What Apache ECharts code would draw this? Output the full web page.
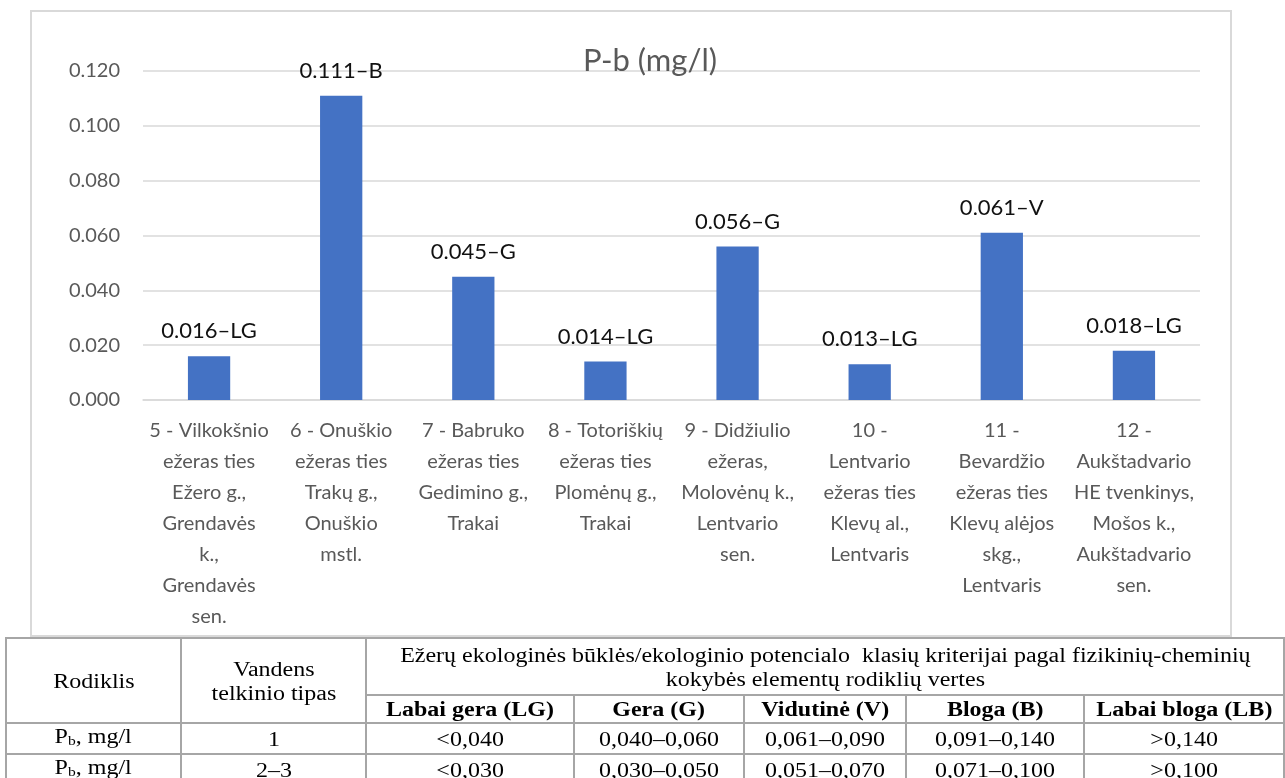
<!DOCTYPE html>
<html>
<head>
<meta charset="utf-8">
<script src="https://cdn.jsdelivr.net/npm/echarts@6/dist/echarts.min.js"></script>
<style>
  html, body { margin: 0; padding: 0; background: #fff; }
  #wrap { position: relative; width: 1285px; height: 778px; overflow: hidden; }
  #chart { position: absolute; left: 0; top: 0; width: 1285px; height: 638px; }
  #tbl { position: absolute; left: 5px; top: 637px; border-collapse: collapse; table-layout: fixed;
         font-family: "Liberation Serif", "Times New Roman", serif; font-size: 20px; color: #000; }
  #tbl td { border: 2px solid #a6a6a6; text-align: center; vertical-align: middle; padding: 0; line-height: 24px; overflow: hidden; white-space: nowrap; }
  #tbl td span { display: inline-block; transform: scaleX(1.2); }
  #tbl .h2 td { font-weight: bold; height: 26px; }
  #tbl .d td { height: 26px; }
  sub { font-size: 13px; vertical-align: -2px; }
</style>
</head>
<body>
<div id="wrap">
  <div id="chart"></div>
  <table id="tbl">
    <colgroup>
      <col style="width:175px"><col style="width:185px"><col style="width:208px"><col style="width:170px">
      <col style="width:162px"><col style="width:178px"><col style="width:200px">
    </colgroup>
    <tr style="height:57px">
      <td rowspan="2"><span>Rodiklis</span></td>
      <td rowspan="2"><span>Vandens<br>telkinio tipas</span></td>
      <td colspan="5"><span>Ežerų ekologinės būklės/ekologinio potencialo&nbsp; klasių kriterijai pagal fizikinių-cheminių<br>kokybės elementų rodiklių vertes</span></td>
    </tr>
    <tr class="h2" id="hdr2"></tr>
    <tr class="d" id="row1"></tr>
    <tr class="d" id="row2"></tr>
  </table>
</div>
<script>
// ---- chart data ----
const categories = [
  "5 - Vilkokšnio\nežeras ties\nEžero g.,\nGrendavės\nk.,\nGrendavės\nsen.",
  "6 - Onuškio\nežeras ties\nTrakų g.,\nOnuškio\nmstl.",
  "7 - Babruko\nežeras ties\nGedimino g.,\nTrakai",
  "8 - Totoriškių\nežeras ties\nPlomėnų g.,\nTrakai",
  "9 - Didžiulio\nežeras,\nMolovėnų k.,\nLentvario\nsen.",
  "10 -\nLentvario\nežeras ties\nKlevų al.,\nLentvaris",
  "11 -\nBevardžio\nežeras ties\nKlevų alėjos\nskg.,\nLentvaris",
  "12 -\nAukštadvario\nHE tvenkinys,\nMošos k.,\nAukštadvario\nsen."
];
const values = [0.016, 0.111, 0.045, 0.014, 0.056, 0.013, 0.061, 0.018];
const classes = ["LG", "B", "G", "LG", "G", "LG", "V", "LG"];
const chartTitle = "P-b (mg/l)";
const yTicks = { min: 0, max: 0.12, interval: 0.02 };

// ---- table data ----
const classHeaders = ["Labai gera (LG)", "Gera (G)", "Vidutinė (V)", "Bloga (B)", "Labai bloga (LB)"];
const rowIndicator = "P<sub>b</sub>, mg/l";
const rowTypes = ["1", "2–3"];
const rowLimits1 = ["<0,040", "0,040–0,060", "0,061–0,090", "0,091–0,140", ">0,140"];
const rowLimits2 = ["<0,030", "0,030–0,050", "0,051–0,070", "0,071–0,100", ">0,100"];

function esc(s) { return s.replace(/&/g, "&amp;").replace(/</g, "&lt;").replace(/>/g, "&gt;"); }
document.getElementById("hdr2").innerHTML = classHeaders.map(h => "<td><span>" + esc(h) + "</span></td>").join("");
[[rowTypes[0], rowLimits1, "row1"], [rowTypes[1], rowLimits2, "row2"]].forEach(([t, lims, id]) => {
  document.getElementById(id).innerHTML =
    "<td><span>" + rowIndicator + "</span></td><td><span>" + esc(t) + "</span></td>" +
    lims.map(v => "<td><span>" + esc(v) + "</span></td>").join("");
});

const font = "Lato, 'Open Sans', sans-serif";
const chart = echarts.init(document.getElementById("chart"), null, { renderer: "canvas" });
chart.setOption({
  animation: false,
  backgroundColor: "#fff",
  graphic: [{
    type: "rect", left: 30, top: 10, z: -10, silent: true,
    shape: { width: 1200, height: 625 },
    style: { fill: "#fff", stroke: "#d9d9d9", lineWidth: 2 }
  }],
  title: {
    text: chartTitle, left: 645, textAlign: "center", top: 40,
    textStyle: { fontFamily: font, fontSize: 31, fontWeight: "normal", color: "#595959" }
  },
  grid: { left: 143, right: 85, top: 71, bottom: 238, containLabel: false },
  xAxis: {
    type: "category", data: categories,
    axisLine: { lineStyle: { color: "#d9d9d9", width: 1.5 } },
    axisTick: { show: false },
    axisLabel: { interval: 0, color: "#595959", fontFamily: font, fontSize: 20, lineHeight: 31, margin: 15 }
  },
  yAxis: {
    type: "value", min: yTicks.min, max: yTicks.max, interval: yTicks.interval,
    axisLine: { show: false }, axisTick: { show: false },
    splitLine: { lineStyle: { color: "#d9d9d9", width: 1.5 } },
    axisLabel: { color: "#595959", fontFamily: font, fontSize: 20, margin: 23, formatter: v => v.toFixed(3) }
  },
  series: [{
    type: "bar", data: values, barWidth: "32%",
    itemStyle: { color: "#4472C4" },
    label: {
      show: true, position: "top", distance: 14,
      fontFamily: font, fontSize: 22, color: "#111",
      formatter: p => p.value.toFixed(3) + "–" + classes[p.dataIndex]
    }
  }]
});
</script>
</body>
</html>
